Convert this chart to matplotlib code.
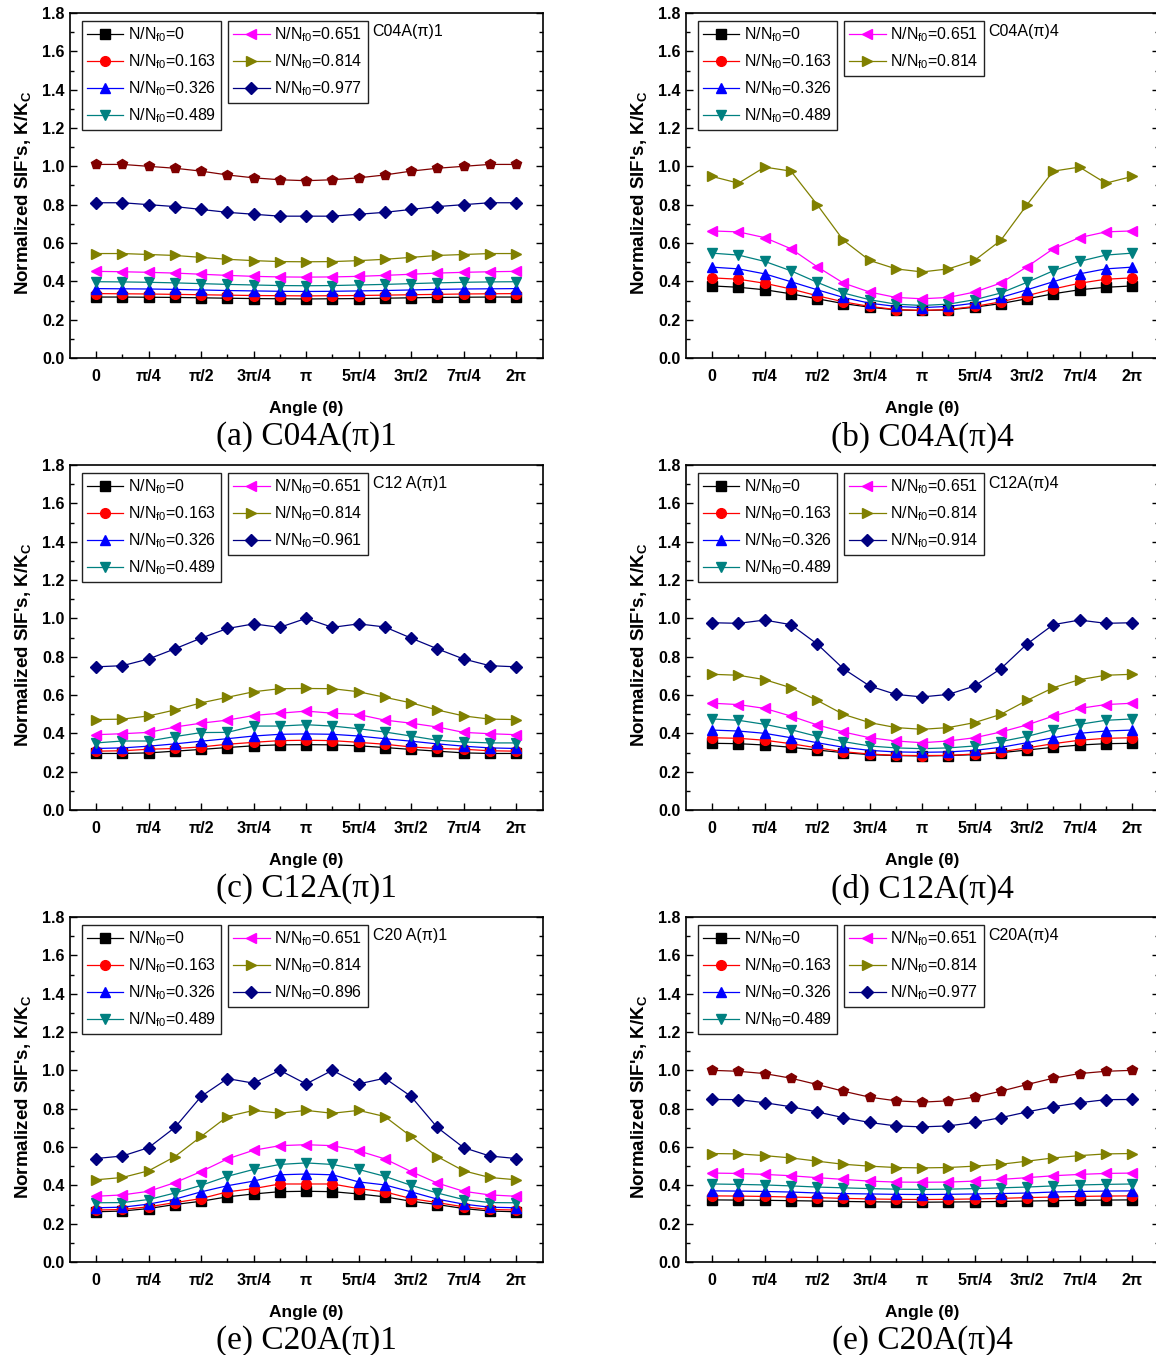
import matplotlib.pyplot as plt
from matplotlib.ticker import MultipleLocator, FixedLocator
import numpy as np

plt.rcParams['font.family'] = ['Liberation Sans', 'DejaVu Sans']
plt.rcParams['mathtext.default'] = 'regular'

# angles, pi/8 apart
theta = np.linspace(0, 2 * np.pi, 17)
tick_labels = ['0', 'π/4', 'π/2', '3π/4', 'π', '5π/4', '3π/2', '7π/4', '2π']

# series order: N/Nf0 = 0, 0.163, 0.326, 0.489, 0.651, 0.814, last cycle, extra (unlabelled)
colors = ['#000000', '#ff0000', '#0000ff', '#008080', '#ff00ff', '#808000', '#000080', '#800000']
markers = ['s', 'o', '^', 'v', '<', '>', 'D', 'p']

# (a) C04A(pi)1
c04a1 = [
    [0.318, 0.318, 0.317, 0.316, 0.314, 0.312, 0.310, 0.309, 0.308, 0.309, 0.310, 0.312, 0.314, 0.316, 0.317, 0.318, 0.318],
    [0.336, 0.335, 0.334, 0.332, 0.330, 0.328, 0.326, 0.325, 0.324, 0.325, 0.326, 0.328, 0.330, 0.332, 0.334, 0.335, 0.336],
    [0.362, 0.361, 0.360, 0.358, 0.355, 0.352, 0.350, 0.348, 0.347, 0.348, 0.350, 0.352, 0.355, 0.358, 0.360, 0.361, 0.362],
    [0.398, 0.397, 0.395, 0.392, 0.388, 0.384, 0.381, 0.378, 0.377, 0.378, 0.381, 0.384, 0.388, 0.392, 0.395, 0.397, 0.398],
    [0.452, 0.450, 0.447, 0.443, 0.437, 0.431, 0.426, 0.423, 0.422, 0.423, 0.426, 0.431, 0.437, 0.443, 0.447, 0.450, 0.452],
    [0.545, 0.545, 0.540, 0.535, 0.525, 0.515, 0.508, 0.503, 0.502, 0.503, 0.508, 0.515, 0.525, 0.535, 0.540, 0.545, 0.545],
    [0.810, 0.810, 0.800, 0.790, 0.775, 0.760, 0.750, 0.740, 0.740, 0.740, 0.750, 0.760, 0.775, 0.790, 0.800, 0.810, 0.810],
    [1.010, 1.010, 1.000, 0.990, 0.975, 0.955, 0.940, 0.930, 0.925, 0.930, 0.940, 0.955, 0.975, 0.990, 1.000, 1.010, 1.010],
]
labels_c04a1 = ['0', '0.163', '0.326', '0.489', '0.651', '0.814', '0.977']

# (b) C04A(pi)4
c04a4 = [
    [0.376, 0.369, 0.356, 0.335, 0.309, 0.284, 0.265, 0.251, 0.248, 0.251, 0.265, 0.284, 0.309, 0.335, 0.356, 0.369, 0.376],
    [0.418, 0.411, 0.390, 0.360, 0.325, 0.293, 0.269, 0.253, 0.248, 0.253, 0.269, 0.293, 0.325, 0.360, 0.390, 0.411, 0.418],
    [0.474, 0.465, 0.439, 0.398, 0.356, 0.316, 0.286, 0.269, 0.263, 0.269, 0.286, 0.316, 0.356, 0.398, 0.439, 0.465, 0.474],
    [0.547, 0.537, 0.504, 0.455, 0.395, 0.339, 0.304, 0.281, 0.274, 0.281, 0.304, 0.339, 0.395, 0.455, 0.504, 0.537, 0.547],
    [0.663, 0.658, 0.628, 0.570, 0.476, 0.391, 0.344, 0.316, 0.309, 0.316, 0.344, 0.391, 0.476, 0.570, 0.628, 0.658, 0.663],
    [0.947, 0.912, 0.996, 0.975, 0.800, 0.614, 0.509, 0.465, 0.449, 0.465, 0.509, 0.614, 0.800, 0.975, 0.996, 0.912, 0.947],
]
labels_c04a4 = ['0', '0.163', '0.326', '0.489', '0.651', '0.814']

# (c) C12A(pi)1
c12a1 = [
    [0.295, 0.295, 0.298, 0.307, 0.316, 0.326, 0.335, 0.340, 0.341, 0.340, 0.335, 0.326, 0.316, 0.307, 0.298, 0.295, 0.295],
    [0.307, 0.309, 0.317, 0.321, 0.329, 0.343, 0.353, 0.362, 0.364, 0.362, 0.353, 0.343, 0.329, 0.321, 0.317, 0.309, 0.307],
    [0.321, 0.324, 0.333, 0.345, 0.359, 0.372, 0.386, 0.395, 0.397, 0.395, 0.386, 0.372, 0.359, 0.345, 0.333, 0.324, 0.321],
    [0.350, 0.360, 0.360, 0.383, 0.404, 0.405, 0.438, 0.438, 0.445, 0.438, 0.424, 0.407, 0.386, 0.364, 0.355, 0.350, 0.350],
    [0.393, 0.398, 0.405, 0.433, 0.453, 0.469, 0.493, 0.505, 0.516, 0.505, 0.498, 0.469, 0.453, 0.433, 0.405, 0.398, 0.393],
    [0.472, 0.474, 0.491, 0.522, 0.559, 0.588, 0.617, 0.633, 0.634, 0.633, 0.617, 0.588, 0.559, 0.522, 0.491, 0.474, 0.472],
    [0.747, 0.753, 0.788, 0.841, 0.897, 0.947, 0.971, 0.953, 1.000, 0.953, 0.971, 0.955, 0.897, 0.841, 0.788, 0.753, 0.747],
]
labels_c12a1 = ['0', '0.163', '0.326', '0.489', '0.651', '0.814', '0.961']

# (d) C12A(pi)4
c12a4 = [
    [0.348, 0.346, 0.339, 0.327, 0.313, 0.299, 0.289, 0.284, 0.282, 0.284, 0.289, 0.299, 0.313, 0.327, 0.339, 0.346, 0.348],
    [0.377, 0.374, 0.364, 0.346, 0.324, 0.304, 0.292, 0.285, 0.284, 0.285, 0.292, 0.304, 0.324, 0.346, 0.364, 0.374, 0.377],
    [0.417, 0.412, 0.400, 0.377, 0.351, 0.327, 0.311, 0.303, 0.301, 0.303, 0.311, 0.327, 0.351, 0.377, 0.400, 0.412, 0.417],
    [0.475, 0.468, 0.447, 0.419, 0.384, 0.357, 0.334, 0.324, 0.320, 0.324, 0.334, 0.357, 0.384, 0.419, 0.447, 0.468, 0.475],
    [0.557, 0.550, 0.530, 0.490, 0.444, 0.407, 0.377, 0.360, 0.351, 0.360, 0.377, 0.407, 0.444, 0.490, 0.530, 0.550, 0.557],
    [0.708, 0.703, 0.680, 0.638, 0.572, 0.499, 0.456, 0.430, 0.421, 0.430, 0.456, 0.499, 0.572, 0.638, 0.680, 0.703, 0.708],
    [0.977, 0.974, 0.991, 0.967, 0.866, 0.737, 0.647, 0.603, 0.590, 0.603, 0.647, 0.737, 0.866, 0.967, 0.991, 0.974, 0.977],
]
labels_c12a4 = ['0', '0.163', '0.326', '0.489', '0.651', '0.814', '0.914']

# (e) C20A(pi)1
c20a1 = [
    [0.262, 0.266, 0.279, 0.300, 0.317, 0.340, 0.355, 0.367, 0.369, 0.367, 0.355, 0.340, 0.317, 0.300, 0.279, 0.266, 0.262],
    [0.271, 0.274, 0.288, 0.310, 0.331, 0.366, 0.383, 0.407, 0.407, 0.407, 0.383, 0.366, 0.331, 0.310, 0.288, 0.274, 0.271],
    [0.283, 0.286, 0.302, 0.328, 0.366, 0.398, 0.422, 0.455, 0.459, 0.455, 0.418, 0.402, 0.366, 0.328, 0.302, 0.286, 0.283],
    [0.309, 0.310, 0.326, 0.360, 0.400, 0.447, 0.483, 0.509, 0.517, 0.509, 0.483, 0.447, 0.400, 0.360, 0.326, 0.310, 0.309],
    [0.343, 0.350, 0.369, 0.414, 0.472, 0.538, 0.583, 0.607, 0.612, 0.607, 0.580, 0.538, 0.472, 0.412, 0.369, 0.350, 0.343],
    [0.429, 0.441, 0.476, 0.550, 0.655, 0.759, 0.791, 0.776, 0.791, 0.776, 0.791, 0.759, 0.655, 0.550, 0.476, 0.441, 0.429],
    [0.540, 0.553, 0.597, 0.702, 0.864, 0.957, 0.933, 1.000, 0.929, 1.000, 0.929, 0.959, 0.864, 0.702, 0.597, 0.553, 0.540],
]
labels_c20a1 = ['0', '0.163', '0.326', '0.489', '0.651', '0.814', '0.896']

# (f) C20A(pi)4
c20a4 = [
    [0.324, 0.323, 0.322, 0.320, 0.318, 0.316, 0.314, 0.313, 0.312, 0.313, 0.314, 0.316, 0.318, 0.320, 0.322, 0.323, 0.324],
    [0.345, 0.344, 0.342, 0.339, 0.336, 0.332, 0.329, 0.327, 0.326, 0.327, 0.329, 0.332, 0.336, 0.339, 0.342, 0.344, 0.345],
    [0.371, 0.370, 0.368, 0.365, 0.360, 0.357, 0.355, 0.353, 0.352, 0.353, 0.355, 0.357, 0.360, 0.365, 0.368, 0.370, 0.371],
    [0.407, 0.405, 0.402, 0.397, 0.391, 0.387, 0.383, 0.380, 0.379, 0.380, 0.383, 0.387, 0.391, 0.397, 0.402, 0.405, 0.407],
    [0.464, 0.462, 0.457, 0.450, 0.440, 0.431, 0.422, 0.417, 0.416, 0.417, 0.422, 0.431, 0.440, 0.450, 0.457, 0.462, 0.464],
    [0.566, 0.564, 0.555, 0.543, 0.526, 0.510, 0.500, 0.493, 0.491, 0.493, 0.500, 0.510, 0.526, 0.543, 0.555, 0.564, 0.566],
    [0.848, 0.847, 0.831, 0.810, 0.783, 0.753, 0.728, 0.710, 0.705, 0.710, 0.728, 0.753, 0.783, 0.810, 0.831, 0.847, 0.848],
    [1.000, 0.995, 0.983, 0.959, 0.926, 0.891, 0.860, 0.841, 0.834, 0.841, 0.860, 0.891, 0.926, 0.959, 0.983, 0.995, 1.000],
]
labels_c20a4 = ['0', '0.163', '0.326', '0.489', '0.651', '0.814', '0.977']

panels = [
    (c04a1, labels_c04a1, 'C04A(π)1', '(a) C04A(π)1'),
    (c04a4, labels_c04a4, 'C04A(π)4', '(b) C04A(π)4'),
    (c12a1, labels_c12a1, 'C12 A(π)1', '(c) C12A(π)1'),
    (c12a4, labels_c12a4, 'C12A(π)4', '(d) C12A(π)4'),
    (c20a1, labels_c20a1, 'C20 A(π)1', '(e) C20A(π)1'),
    (c20a4, labels_c20a4, 'C20A(π)4', '(e) C20A(π)4'),
]

fig = plt.figure(figsize=(11.56, 13.55), dpi=100)
W, H = 1156.0, 1355.0
lefts = [70, 686]
bottoms = [358, 810, 1262]
aw, ah = 473, 345

for i, (data, labels, tag, caption) in enumerate(panels):
    r, c = divmod(i, 2)
    ax = fig.add_axes([lefts[c] / W, 1 - bottoms[r] / H, aw / W, ah / H])
    handles = []
    for j, ys in enumerate(data):
        ms = 6.0 if markers[j] == 'D' else 7.0
        ln, = ax.plot(theta, ys, color=colors[j], marker=markers[j], ms=ms,
                      mec=colors[j], lw=0.9)
        handles.append(ln)

    ax.set_xlim(-np.pi / 8, 2 * np.pi + np.pi / 8 * 1.03)
    ax.set_ylim(0, 1.8)
    ax.xaxis.set_major_locator(FixedLocator(np.arange(9) * np.pi / 4))
    ax.xaxis.set_minor_locator(FixedLocator(np.arange(17) * np.pi / 8))
    ax.set_xticklabels(tick_labels)
    ax.yaxis.set_major_locator(MultipleLocator(0.2))
    ax.yaxis.set_minor_locator(MultipleLocator(0.1))
    ax.yaxis.set_major_formatter(plt.FormatStrFormatter('%.1f'))
    ax.tick_params(which='both', direction='in', right=True, top=False, width=1)
    ax.tick_params(which='major', length=5, labelsize=11.5, pad=4)
    ax.tick_params(axis='x', which='major', pad=8)
    ax.tick_params(which='minor', length=3)
    for lab in ax.get_xticklabels() + ax.get_yticklabels():
        lab.set_fontweight('bold')
    for sp in ax.spines.values():
        sp.set_linewidth(1.2)

    ax.set_xlabel('Angle (θ)', fontsize=12.5, fontweight='bold', labelpad=12)
    ax.set_ylabel("Normalized SIF's, K/K$_\\mathregular{C}$", fontsize=13.5,
                  fontweight='bold')
    ax.yaxis.set_label_coords(-0.078, 0.48)

    names = ['N/N$_\\mathregular{f0}$=' + v for v in labels]
    leg_kw = dict(loc='upper left', fontsize=11.5, frameon=True, fancybox=False,
                  edgecolor='#222222', framealpha=1, borderaxespad=0,
                  handlelength=2.3, handletextpad=0.3, labelspacing=0.52,
                  borderpad=0.3)
    leg1 = ax.legend(handles[:4], names[:4], bbox_to_anchor=(0.025, 0.977), **leg_kw)
    leg1.get_frame().set_linewidth(1.0)
    ax.add_artist(leg1)
    leg2 = ax.legend(handles[4:len(labels)], names[4:], bbox_to_anchor=(0.334, 0.977), **leg_kw)
    leg2.get_frame().set_linewidth(1.0)

    ax.text(0.64, 0.945, tag, transform=ax.transAxes, fontsize=11.5, va='center', ha='left')
    ax.text(0.5, -0.229, caption, transform=ax.transAxes, fontsize=24,
            family=['Liberation Serif', 'DejaVu Serif'], ha='center', va='center')

fig.savefig('out.png', dpi=100)
